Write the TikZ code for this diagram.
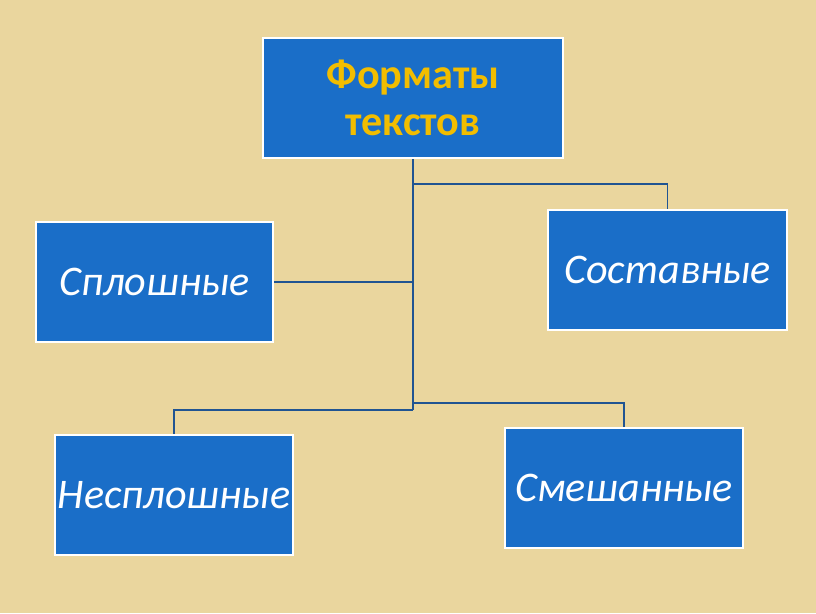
\documentclass[tikz,border=0pt]{standalone}
\usepackage{fontspec}
\setmainfont{Carlito}
\definecolor{parchment}{RGB}{234,214,158}
\definecolor{boxblue}{RGB}{26,110,200}
\definecolor{linkblue}{RGB}{32,84,146}
\definecolor{titleyellow}{RGB}{242,189,0}
\begin{document}
\begin{tikzpicture}
  [x=0.03cm,y=-0.03cm,
   every node/.style={fill=boxblue,draw=white,line width=2pt,minimum height=3.6cm,align=center,inner sep=0pt},
   kind/.style={text=white,font=\fontsize{36}{40}\selectfont\itshape},
   link/.style={draw=linkblue,line width=1.6pt}]
    \useasboundingbox[fill=parchment] (0,0) rectangle (816,613);

    \node (fmt)   [minimum width=9cm,text=titleyellow,font=\fontsize{36}{40}\selectfont\bfseries] at (413,98) {Форматы\\текстов};
    \node (splsh) [kind,minimum width=7.11cm] at (154.5,282) {Сплошные};
    \node (sost)  [kind,minimum width=7.17cm] at (667.5,270) {Составные};
    \node (nespl) [kind,minimum width=7.14cm] at (174,495)   {Несплошные};
    \node (smesh) [kind,minimum width=7.14cm] at (624,488)   {Смешанные};

    \coordinate (j1) at (413,184);
    \coordinate (j2) at (413,282);
    \coordinate (j3) at (413,403);
    \coordinate (j4) at (413,410);

    \draw[link] (fmt) -- (j4);
    \draw[link] (splsh) -- (j2);
    \foreach \from/\to in {j1/sost,j3/smesh,j4/nespl}
      \draw[link] (\from) -| (\to);
\end{tikzpicture}
\end{document}
